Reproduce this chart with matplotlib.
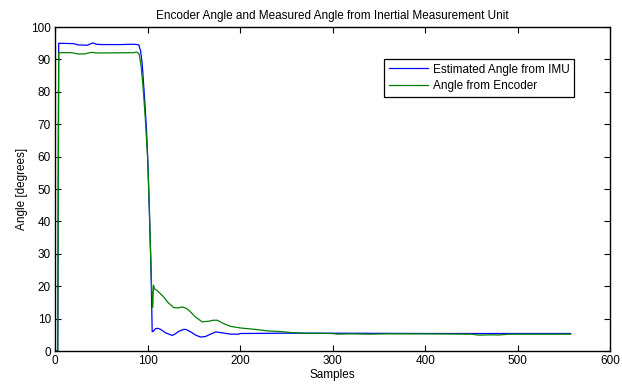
#!/usr/bin/env python3
"""Encoder angle vs. IMU estimated angle over the recorded samples."""

import matplotlib

matplotlib.use("Agg")
import matplotlib.pyplot as plt

# Estimated angle from the IMU (sample index, degrees).
IMU_SAMPLES = [
    1, 3, 4, 20, 25, 35, 38, 41, 45, 50, 70, 85, 89, 90.6,
    91.5, 92.4, 94.2, 96.7, 98.9, 100.4, 101.5, 102.5, 103.6, 104.3, 105,
    106, 108.6, 111, 114, 119.5, 126.7, 130, 133.9, 139.3, 142, 146.6,
    152, 157.4, 162.8, 168, 173.7, 180.9, 189.9, 198, 200, 250, 300, 400, 557,
]
IMU_ANGLE = [
    0, 0, 95.0, 94.9, 94.5, 94.4, 94.8, 95.1, 94.7, 94.6, 94.6, 94.7, 94.6, 94.5,
    93.5, 92.8, 88.7, 78.4, 68.1, 57.8, 47.5, 37.2, 27.0, 16.7, 6.0,
    6.0, 6.9, 7.0, 6.7, 5.6, 4.8, 5.3, 6.1, 6.7, 6.6, 5.9,
    4.9, 4.3, 4.5, 5.2, 5.9, 5.6, 5.2, 5.2, 5.4, 5.5, 5.5, 5.4, 5.4,
]

# Angle measured by the encoder.
ENC_SAMPLES = [
    1, 3, 4, 18, 25, 32, 36, 40, 45, 85, 88, 90,
    91, 93, 95, 97.5, 100, 102, 103.5, 104.5, 105.6, 106.4, 107.5,
    110.2, 117.4, 122, 128.3, 133, 137.3, 141, 144.6, 151.8, 159, 166.3,
    171, 175.3, 182.6, 189.8, 200.7, 218.7, 229.6, 244, 255, 270, 300,
    305, 320, 340, 360, 400, 450, 458, 470, 480, 490, 557,
]
ENC_ANGLE = [
    0, 0, 92.1, 92.1, 91.7, 91.7, 92.0, 92.2, 92.0, 92.1, 92.3, 92.0,
    91.5, 88, 82, 72, 60, 44, 28, 19, 13.4, 20.3, 19.2,
    18.7, 16.7, 15.0, 13.4, 13.3, 13.6, 13.3, 12.6, 10.5, 9.0, 9.2,
    9.5, 9.5, 8.4, 7.6, 7.1, 6.6, 6.2, 6.0, 5.7, 5.5, 5.4,
    5.2, 5.3, 5.2, 5.3, 5.3, 5.2, 4.9, 5.0, 4.95, 5.2, 5.2,
]

X_TICKS = [0, 100, 200, 300, 400, 500, 600]
Y_TICKS = [0, 10, 20, 30, 40, 50, 60, 70, 80, 90, 100]

FONT_SIZE = 8.5


def main():
    plt.rcParams["font.family"] = ["Liberation Sans", "DejaVu Sans"]
    plt.rcParams["font.size"] = FONT_SIZE

    fig = plt.figure(figsize=(6.22, 3.87), dpi=100)
    # MATLAB-like placement of the axes box.
    ax = fig.add_axes([0.0884, 0.093, 0.893, 0.837])

    ax.plot(IMU_SAMPLES, IMU_ANGLE, color="#0000ff", lw=0.9,
            label="Estimated Angle from IMU")
    ax.plot(ENC_SAMPLES, ENC_ANGLE, color="#008000", lw=0.9,
            label="Angle from Encoder")

    ax.set_xlim(0, 600)
    ax.set_ylim(0, 100)
    ax.set_xticks(X_TICKS)
    ax.set_yticks(Y_TICKS)
    ax.tick_params(direction="in", top=True, right=True, length=4,
                   width=0.8, labelsize=FONT_SIZE, pad=3)
    for spine in ax.spines.values():
        spine.set_linewidth(1.0)

    ax.set_title("Encoder Angle and Measured Angle from Inertial Measurement Unit",
                 fontsize=FONT_SIZE, pad=6)
    ax.set_xlabel("Samples", fontsize=FONT_SIZE, labelpad=1)
    ax.set_ylabel("Angle [degrees]", fontsize=FONT_SIZE, labelpad=2)

    leg = ax.legend(loc="upper left", bbox_to_anchor=(0.593, 0.902),
                    fontsize=FONT_SIZE, fancybox=False, framealpha=1,
                    edgecolor="black", handlelength=3.3, handletextpad=0.4,
                    borderpad=0.4, labelspacing=0.4, borderaxespad=0)
    leg.get_frame().set_linewidth(0.9)

    fig.savefig("out.png", dpi=100)
    plt.close(fig)


if __name__ == "__main__":
    main()
